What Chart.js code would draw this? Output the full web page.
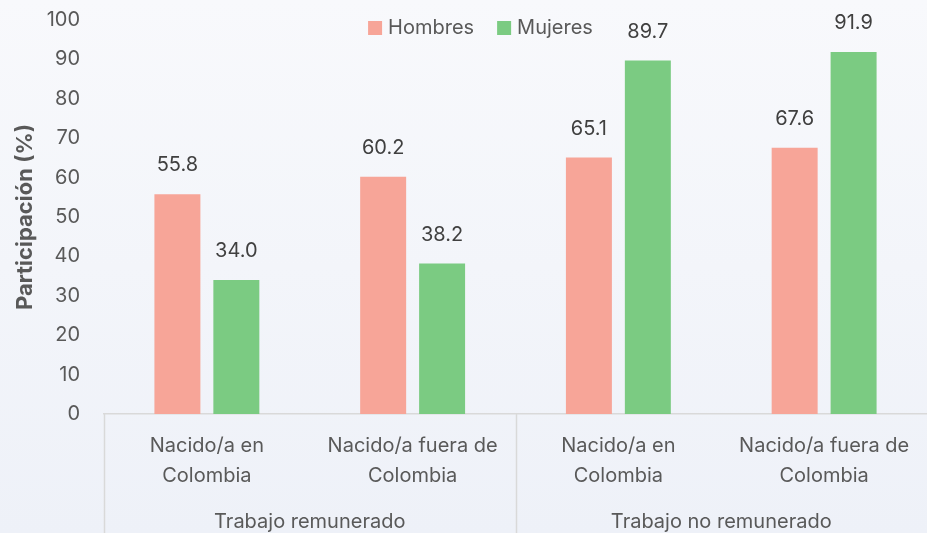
<!DOCTYPE html>
<html>
<head>
<meta charset="utf-8">
<script src="https://cdn.jsdelivr.net/npm/chart.js@4.4.0/dist/chart.umd.min.js"></script>
<style>
  html, body { margin: 0; padding: 0; }
  body { width: 927px; height: 533px; background: linear-gradient(180deg, #f8f9fc 0%, #eef1f8 100%); }
  #wrap { position: relative; width: 927px; height: 533px; }
</style>
</head>
<body>
<div id="wrap"><canvas id="chart"></canvas></div>
<script>
const categories = [['Nacido/a en', 'Colombia'], ['Nacido/a fuera de', 'Colombia'], ['Nacido/a en', 'Colombia'], ['Nacido/a fuera de', 'Colombia']];
const groups = ['Trabajo remunerado', 'Trabajo no remunerado'];
const groupSize = 2;
const seriesNames = ['Hombres', 'Mujeres'];
const hombres = [55.8, 60.2, 65.1, 67.6];
const mujeres = [34.0, 38.2, 89.7, 91.9];
const yMin = 0, yMax = 100, yStep = 10;

const FONT = 'Inter, "Noto Sans", sans-serif';
const colors = ['#f7a598', '#7bcb82'];

// data labels, group labels, separators and legend
const extras = {
    id: 'extras',
    afterDraw(chart) {
        const ctx = chart.ctx;
        const xs = chart.scales.x;
        ctx.save();

        // values above bars
        ctx.font = '20px ' + FONT;
        ctx.fillStyle = '#404040';
        ctx.textAlign = 'center';
        ctx.textBaseline = 'middle';
        chart.data.datasets.forEach((ds, i) => {
            chart.getDatasetMeta(i).data.forEach((bar, j) => {
                ctx.fillText(ds.data[j].toFixed(1), bar.x, bar.y - 29);
            });
        });

        // group separators
        ctx.strokeStyle = '#d9d9d9';
        ctx.lineWidth = 1.5;
        for (let g = 0; g < groups.length; g++) {
            const idx = g * groupSize;
            const x = g === 0 ? xs.left : (xs.getPixelForValue(idx - 1) + xs.getPixelForValue(idx)) / 2;
            ctx.beginPath();
            ctx.moveTo(Math.round(x) + 0.5, xs.top);
            ctx.lineTo(Math.round(x) + 0.5, chart.height);
            ctx.stroke();
        }

        // group labels
        ctx.fillStyle = '#595959';
        groups.forEach((name, g) => {
            const a = xs.getPixelForValue(g * groupSize);
            const b = xs.getPixelForValue(g * groupSize + groupSize - 1);
            ctx.fillText(name, (a + b) / 2, chart.height - 11);
        });

        // legend
        ctx.textAlign = 'left';
        const box = 14, gapText = 6, gapItem = 23;
        const widths = seriesNames.map(n => ctx.measureText(n).width);
        const total = widths.reduce((s, w) => s + box + gapText + w, 0) + gapItem * (seriesNames.length - 1);
        let x = chart.width / 2 + 17 - total / 2;
        const y = 28;
        seriesNames.forEach((n, i) => {
            ctx.fillStyle = colors[i];
            ctx.fillRect(x, y - box / 2, box, box);
            ctx.fillStyle = '#595959';
            ctx.fillText(n, x + box + gapText, y);
            x += box + gapText + widths[i] + gapItem;
        });

        ctx.restore();
    }
};

new Chart(document.getElementById('chart'), {
    type: 'bar',
    data: {
        labels: categories,
        datasets: [{
            label: seriesNames[0],
            data: hombres,
            backgroundColor: colors[0]
        }, {
            label: seriesNames[1],
            data: mujeres,
            backgroundColor: colors[1]
        }]
    },
    options: {
        responsive: true,
        maintainAspectRatio: false,
        animation: false,
        layout: { padding: { top: 20, right: 0, left: 0, bottom: 0 } },
        datasets: {
            bar: { categoryPercentage: 0.573, barPercentage: 0.78 }
        },
        plugins: {
            legend: { display: false },
            tooltip: { enabled: false }
        },
        scales: {
            x: {
                grid: { display: false },
                border: { color: '#d9d9d9', width: 1.5 },
                ticks: {
                    font: { family: FONT, size: 20, lineHeight: 1.5 },
                    color: '#595959',
                    padding: 9,
                    maxRotation: 0,
                    autoSkip: false
                },
                afterFit(scale) { scale.height = 119; }
            },
            y: {
                min: yMin,
                max: yMax,
                grid: { display: false, drawTicks: false },
                border: { display: false },
                ticks: {
                    stepSize: yStep,
                    font: { family: FONT, size: 20 },
                    color: '#595959',
                    padding: 24
                },
                title: {
                    display: true,
                    text: 'Participación (%)',
                    font: { family: FONT, size: 22, weight: 'bold' },
                    color: '#595959',
                    padding: { top: 12, bottom: 0 }
                },
                afterFit(scale) {
                    scale.width = 104;
                    scale.paddingTop = 0;
                    scale.paddingBottom = 0;
                }
            }
        }
    },
    plugins: [extras]
});
</script>
</body>
</html>
